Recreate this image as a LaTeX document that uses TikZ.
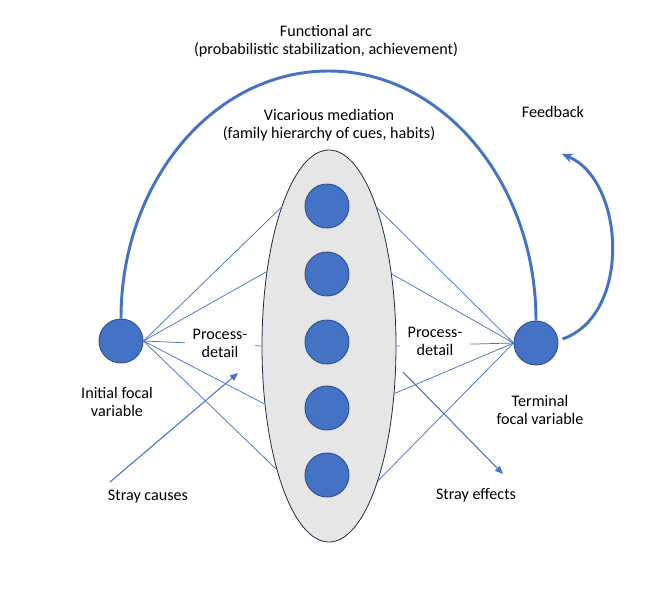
\documentclass[tikz,border=0pt]{standalone}
\usepackage{fontspec}
\setmainfont{Carlito}
\usetikzlibrary{shapes.geometric,arrows.meta}

\definecolor{cueblue}{HTML}{4472C4}
\definecolor{cueedge}{HTML}{2F528F}
\definecolor{medgray}{HTML}{E7E6E6}
\definecolor{medline}{HTML}{1F2A44}

\tikzset{
  focal/.style={circle, fill=cueblue, draw=cueedge, line width=0.7pt, minimum size=33pt, inner sep=0pt},
  mediator/.style={ellipse, fill=medgray, draw=medline, line width=0.6pt, minimum width=100.5pt, minimum height=294pt, inner sep=0pt},
  link/.style={cueblue, line width=0.55pt},
  bigarc/.style={cueblue, line width=2.2pt},
  txt/.style={font=\fontsize{12.1}{13.6}\selectfont, align=center, text=black},
  cover/.style={txt, fill=white, inner xsep=6pt, inner ysep=2pt}
}

\begin{document}
\begin{tikzpicture} [x=0.75pt,y=-0.75pt]

\useasboundingbox (0,0) rectangle (656,594);

% vicarious mediation
\node [mediator] (med) at (329,346) {};
\foreach \i/\y in {1/206,2/274,3/342,4/408,5/475}
  \node [focal] (cue\i) at (327,\y) {};

% focal variables
\node [focal] (init) at (121,341) {};
\node [focal] (term) at (536,343) {};

% process-detail links
\foreach \a in {109,130,180,222,247}
  \draw [link] (init.east) -- (med.\a);
\foreach \a in {71,49,0,324,290}
  \draw [link] (term.west) -- (med.\a);
\node [cover] (pdl) at (220,343) {Process-\\detail};
\node [cover] (pdr) at (435,341) {Process-\\detail};

% functional arc and feedback
\coordinate (arctop) at (328.5,71);
\draw [bigarc] (init.north) .. controls +(0,-137) and +(-115,0) .. (arctop)
  .. controls +(115,0) and +(0,-137) .. (term.north);
\coordinate (fbtip) at (562,154);
\draw [bigarc, -{Stealth[length=8pt,width=7pt]}] ([shift={(4,-4)}]term.east)
  .. controls (632,315) and (625,180) .. (fbtip);

% stray causes and effects
\coordinate (sc0) at (110,482);
\coordinate (sc1) at (238,373);
\draw [link, line width=0.8pt, -{Triangle[length=6pt,width=5pt]}] (sc0) -- (sc1);
\coordinate (se0) at (403,372);
\coordinate (se1) at (503,474);
\draw [link, line width=0.8pt, -{Triangle[length=6pt,width=5pt]}] (se0) -- (se1);

% labels
\node [txt] (fa) at (326,41) {Functional arc\\(probabilistic stabilization, achievement)};
\node [txt] (vm) at (329,125) {Vicarious mediation\\(family hierarchy of cues, habits)};
\node [txt] (fb) at (553,112) {Feedback};
\node [txt] (ifv) at (117,402) {Initial focal\\variable};
\node [txt] (tfv) at (540,410) {Terminal\\focal variable};
\node [txt] (scl) at (148,497) {Stray causes};
\node [txt] (sel) at (476,495) {Stray effects};

\end{tikzpicture}
\end{document}
